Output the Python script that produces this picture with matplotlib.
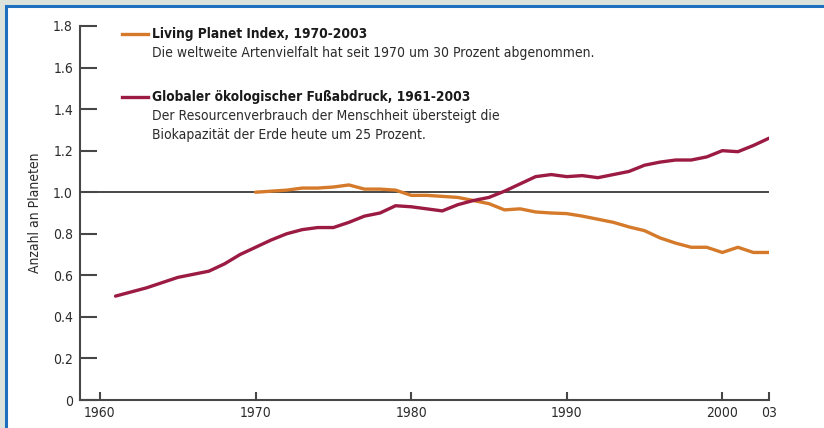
import matplotlib
matplotlib.use("Agg")
import matplotlib.pyplot as plt
from matplotlib.patches import Rectangle

# Living Planet Index, 1970-2003
lpi_years = list(range(1970, 2004))
lpi_values = [1.00, 1.005, 1.01, 1.02, 1.02, 1.025, 1.035, 1.015, 1.015, 1.01,
              0.985, 0.985, 0.98, 0.975, 0.96, 0.945, 0.915, 0.92, 0.905, 0.90,
              0.897, 0.885, 0.87, 0.855, 0.833, 0.815, 0.78, 0.755, 0.735, 0.735,
              0.71, 0.735, 0.71, 0.71]

# Globaler oekologischer Fussabdruck, 1961-2003
fp_years = list(range(1961, 2004))
fp_values = [0.50, 0.52, 0.54, 0.565, 0.59, 0.605, 0.62, 0.655, 0.70, 0.735,
             0.77, 0.80, 0.82, 0.83, 0.83, 0.855, 0.885, 0.90, 0.935, 0.93,
             0.92, 0.91, 0.94, 0.96, 0.975, 1.005, 1.04, 1.075, 1.085, 1.075,
             1.08, 1.07, 1.085, 1.10, 1.13, 1.145, 1.155, 1.155, 1.17, 1.20,
             1.195, 1.225, 1.26]

x_ticks = [1960, 1970, 1980, 1990, 2000, 2003]
x_labels = ['1960', '1970', '1980', '1990', '2000', '03']
y_ticks = [0, 0.2, 0.4, 0.6, 0.8, 1.0, 1.2, 1.4, 1.6, 1.8]
y_labels = ['0', '0.2', '0.4', '0.6', '0.8', '1.0', '1.2', '1.4', '1.6', '1.8']

legend_titles = ['Living Planet Index, 1970-2003',
                 'Globaler ökologischer Fußabdruck, 1961-2003']
legend_notes = ['Die weltweite Artenvielfalt hat seit 1970 um 30 Prozent abgenommen.',
                'Der Resourcenverbrauch der Menschheit übersteigt die\n'
                'Biokapazität der Erde heute um 25 Prozent.']

ORANGE = '#d47a2a'
CRIMSON = '#9b1b43'
AXIS = '#474747'
TEXT = '#2b2b2b'

plt.rcParams['font.family'] = ['DejaVu Sans']
plt.rcParams['font.stretch'] = 'condensed'

W, H = 824, 428
fig = plt.figure(figsize=(W / 100, H / 100), dpi=100)
fig.patch.set_facecolor('#dbe3dc')

def fx(px):
    return px / W

def fy(py):
    return 1 - py / H

# white panel with blue frame, kept behind the axes
fig.patches.append(Rectangle((fx(6), -0.05), 1, fy(6) + 0.05, transform=fig.transFigure,
                             facecolor='white', edgecolor='#1f6fbf', linewidth=2.2,
                             figure=fig, zorder=-10))

ax = fig.add_axes([fx(80), fy(400), fx(769) - fx(80), fy(26) - fy(400)])
ax.set_facecolor('none')
ax.set_xlim(1960 - 20 / 15.58, 2003)
ax.set_ylim(0, 1.8)

ax.axhline(1.0, color=AXIS, linewidth=1.4, zorder=1)
ax.plot(fp_years, fp_values, color=CRIMSON, linewidth=2.4, zorder=3,
        solid_capstyle='round', solid_joinstyle='round')
ax.plot(lpi_years, lpi_values, color=ORANGE, linewidth=2.4, zorder=2,
        solid_capstyle='round', solid_joinstyle='round')

for side in ['top', 'right']:
    ax.spines[side].set_visible(False)
for side in ['left', 'bottom']:
    ax.spines[side].set_color(AXIS)
    ax.spines[side].set_linewidth(1.5)

ax.set_xticks(x_ticks)
ax.set_xticklabels(x_labels)
ax.set_yticks(y_ticks)
ax.set_yticklabels(y_labels)
ax.tick_params(axis='y', direction='in', length=12, width=1.5, color=AXIS,
               pad=5, labelsize=10, labelcolor=TEXT)
ax.tick_params(axis='x', direction='in', length=6, width=1.5, color=AXIS,
               pad=4, labelsize=10, labelcolor=TEXT)
ax.set_ylabel('Anzahl an Planeten', fontsize=10, color=TEXT, labelpad=8)

# legend block
for title, note, color, ly in zip(legend_titles, legend_notes,
                                  [ORANGE, CRIMSON], [34, 97]):
    fig.add_artist(plt.Line2D([fx(122), fx(148)], [fy(ly), fy(ly)],
                              transform=fig.transFigure, color=color, linewidth=2.4))
    fig.text(fx(152), fy(ly), title, fontsize=9.8, fontweight='bold',
             color='#1a1a1a', va='center', ha='left')
    fig.text(fx(152), fy(ly + 12), note, fontsize=10, color=TEXT,
             va='top', ha='left', linespacing=1.45)

fig.savefig('out.png', dpi=100, facecolor=fig.get_facecolor())
